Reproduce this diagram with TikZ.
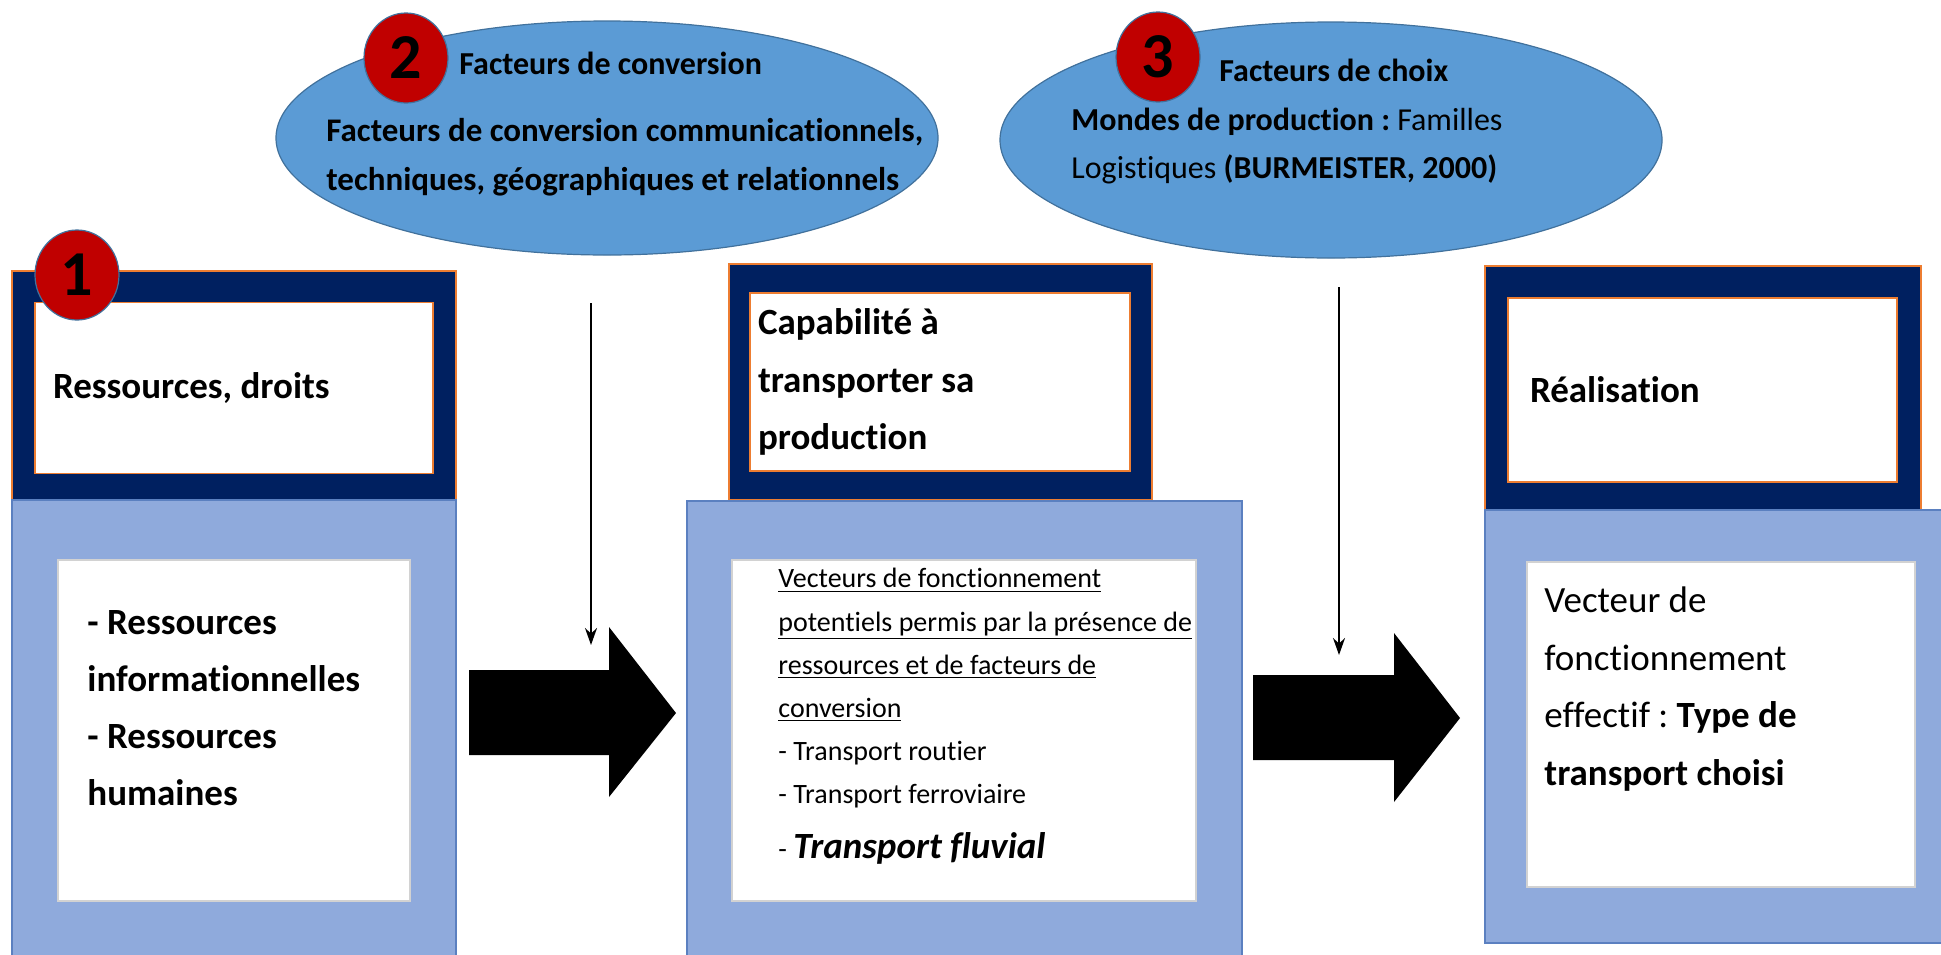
\documentclass[tikz,border=0pt]{standalone}
\usepackage{fontspec}
\setmainfont{Carlito}[Ligatures=NoCommon]
\usetikzlibrary{arrows.meta,shapes.geometric}

\definecolor{navy}{HTML}{002060}
\definecolor{boxorange}{HTML}{ED7D31}
\definecolor{paleblue}{HTML}{8FAADC}
\definecolor{paleedge}{HTML}{5B80C0}
\definecolor{ovalblue}{HTML}{5B9BD5}
\definecolor{ovaledge}{HTML}{41719C}
\definecolor{badgered}{HTML}{C00000}

\tikzset{
  darkbox/.style={fill=navy, draw=boxorange, line width=0.7pt, inner sep=0pt},
  titlebox/.style={fill=white, draw=boxorange, line width=0.7pt, inner ysep=0pt, align=flush left,
    font=\bfseries\fontsize{18.5}{28.75}\selectfont},
  palebox/.style={fill=paleblue, draw=paleedge, line width=0.6pt, inner sep=0pt},
  listbox/.style={fill=white, draw=gray!35, line width=0.9pt, inner sep=0pt},
  oval/.style={ellipse, fill=ovalblue, draw=ovaledge, line width=0.6pt, inner sep=0pt},
  badge/.style={ellipse, fill=badgered, draw=ovaledge, line width=0.6pt, inner sep=0pt,
    minimum width=42pt, minimum height=45pt, font=\bfseries\fontsize{32}{32}\selectfont},
  label/.style={anchor=west, inner sep=0pt, align=flush left},
  thinarrow/.style={-{Stealth[length=8.5pt,width=6pt]}, line width=0.9pt},
}

\begin{document}
\frenchspacing
\begin{tikzpicture}[x=0.5pt,y=-0.5pt]
\useasboundingbox (0,0) rectangle (1941,954);

% ovals on top
\node[oval, minimum width=331pt, minimum height=117pt] (convOval) at (607,138) {};
\node[oval, minimum width=331pt, minimum height=118pt] (choixOval) at (1331,140) {};
\node[label, font=\bfseries\fontsize{16}{16}\selectfont] (convTitle) at (459,63) {Facteurs de conversion};
\node[label, font=\bfseries\fontsize{16.5}{24.5}\selectfont] (convText) at (326,157.5)
  {Facteurs de conversion communicationnels,\\techniques, géographiques et relationnels};
\node[label, font=\bfseries\fontsize{16}{16}\selectfont] (choixTitle) at (1219,70) {Facteurs de choix};
\node[label, font=\fontsize{16}{24}\selectfont] (choixText) at (1071,146)
  {\textbf{Mondes de production :} Familles\\Logistiques \textbf{(BURMEISTER, 2000)}};

% box 1
\node[darkbox, minimum width=222pt, minimum height=114.5pt] (resDark) at (234,385.5) {};
\node[titlebox, minimum width=199pt, minimum height=85.5pt, inner xsep=9pt, text width=181pt] (resTitle) at (234,388) {Ressources, droits};
\node[palebox, minimum width=222pt, minimum height=235pt] (resPale) at (234,735) {};
\node[listbox, minimum width=176pt, minimum height=170.5pt] (resList) at (234,730.5) {};
\node[label, font=\bfseries\fontsize{18.5}{28.5}\selectfont] (resText) at (87,708)
  {- Ressources\\informationnelles\\- Ressources\\humaines};

% box 2
\node[darkbox, minimum width=211.5pt, minimum height=118pt] (capDark) at (940.5,382) {};
\node[titlebox, minimum width=190pt, minimum height=89pt, inner xsep=4pt, text width=182pt] (capTitle) at (940,382)
  {Capabilité à\\transporter sa\\production};
\node[palebox, minimum width=277.5pt, minimum height=234.5pt] (capPale) at (964.5,735.5) {};
\node[listbox, minimum width=232pt, minimum height=170.5pt] (capList) at (964,730.5) {};
\node[label, font=\fontsize{14}{21.6}\selectfont] (capText) at (778,688.5)
  {\underline{Vecteurs de fonctionnement}\\\underline{potentiels permis par la présence de}\\
   \underline{ressources et de facteurs de}\\\underline{conversion}\\- Transport routier\\- Transport ferroviaire};
\node[label] (capFluvial) at (778,848)
  {{\fontsize{14}{14}\selectfont - }{\bfseries\itshape\fontsize{18.5}{20}\selectfont Transport fluvial}};

% box 3
\node[darkbox, minimum width=218pt, minimum height=123pt] (realDark) at (1703,389) {};
\node[titlebox, minimum width=194.5pt, minimum height=92pt, inner xsep=11pt, text width=172.5pt] (realTitle) at (1702.5,390) {Réalisation};
\node[palebox, minimum width=237.5pt, minimum height=216.5pt] (realPale) at (1722.5,726.5) {};
\node[listbox, minimum width=194pt, minimum height=162.5pt] (realList) at (1721,724.5) {};
\node[label, font=\fontsize{18.5}{28.75}\selectfont] (realText) at (1544,689)
  {Vecteur de\\fonctionnement\\effectif : \textbf{Type de}\\\textbf{transport choisi}};

% badges
\node[badge] (badgeOne) at (77,275) {1};
\node[badge] (badgeTwo) at (406,58) {2};
\node[badge] (badgeThree) at (1158,57) {3};

% block arrows
\fill (469,670) -- (609,670) -- (609,627) -- (676,713) -- (609,797) -- (609,755) -- (469,755) -- cycle;
\fill (1253,675) -- (1394,675) -- (1394,633) -- (1460,718) -- (1394,802) -- (1394,760) -- (1253,760) -- cycle;

% thin arrows
\coordinate (convTail) at (591,303);
\coordinate (convHead) at (591,645);
\coordinate (choixTail) at (1339,287);
\coordinate (choixHead) at (1339,655);
\draw[thinarrow] (convTail) -- (convHead);
\draw[thinarrow] (choixTail) -- (choixHead);
\end{tikzpicture}
\end{document}
